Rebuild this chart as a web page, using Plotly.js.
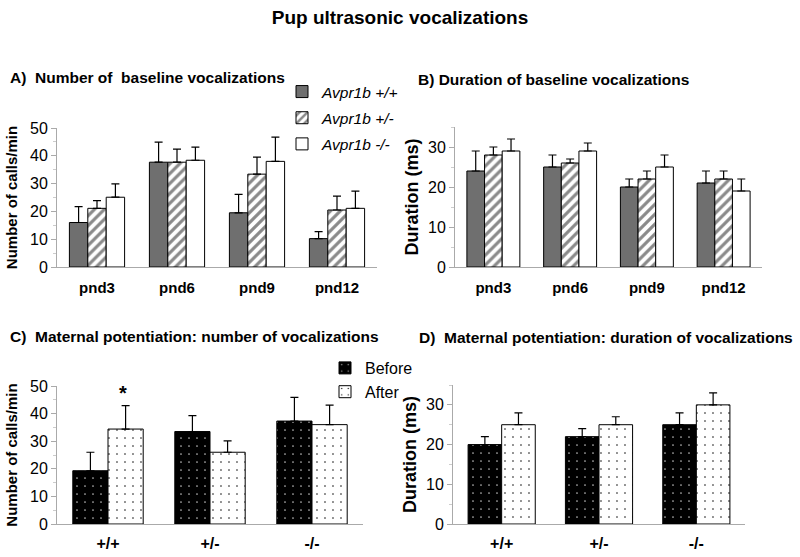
<!DOCTYPE html>
<html>
<head>
<meta charset="utf-8">
<script src="https://cdn.plot.ly/plotly-3.0.1.min.js"></script>
<style>html,body{margin:0;padding:0;background:#fff;}#chart{width:800px;height:557px;}</style>
</head>
<body>
<div id="chart"></div>
<script>
// ---- Data ----
const pndDays = ["pnd3", "pnd6", "pnd9", "pnd12"];
const genotypeNames = ["Avpr1b +/+", "Avpr1b +/-", "Avpr1b -/-"];

// A) Number of baseline vocalizations (calls/min) and SEM
const callsWT  = [16.0, 37.7, 19.5, 10.2];
const callsHet = [21.1, 37.7, 33.4, 20.5];
const callsKO  = [25.1, 38.4, 38.0, 21.1];
const callsWTErr  = [5.7, 7.2, 6.6, 2.5];
const callsHetErr = [2.8, 4.7, 6.1, 5.0];
const callsKOErr  = [4.8, 4.7, 8.7, 6.2];

// B) Duration of baseline vocalizations (ms) and SEM
const durWT  = [24, 25, 20, 21];
const durHet = [28, 26, 22, 22];
const durKO  = [29, 29, 25, 19];
const durWTErr  = [5, 3, 2, 3];
const durHetErr = [2, 1, 2, 2];
const durKOErr  = [3, 2, 3, 3];

// C/D) Maternal potentiation
const genotypes = ["+/+", "+/-", "-/-"];
const potCallsBefore = [19.3, 33.5, 37.3];
const potCallsAfter  = [34.4, 26.0, 36.0];
const potCallsBeforeErr = [6.7, 5.8, 8.6];
const potCallsAfterErr  = [8.5, 4.1, 7.1];
const potDurBefore = [20, 22, 25];
const potDurAfter  = [25, 25, 30];
const potDurBeforeErr = [2, 2, 3];
const potDurAfterErr  = [3, 2, 3];

// ---- Styles ----
const FONT = "Liberation Sans, Arial, sans-serif";
const line = {color: "#000", width: 1};
const styleWT  = {color: "#6f6f6f", line: line};
const styleHet = {color: "#fff", line: line, pattern: {shape: "/", fgcolor: "#8a8a8a", bgcolor: "#fff", size: 7, solidity: 0.45}};
const styleKO  = {color: "#fff", line: line};
const styleBefore = {color: "#000", line: line, pattern: {shape: ".", fgcolor: "#bbb", bgcolor: "#000", size: 8, solidity: 0.035}};
const styleAfter  = {color: "#fff", line: line, pattern: {shape: ".", fgcolor: "#000", bgcolor: "#fff", size: 8, solidity: 0.03}};

function errUp(arr) {
  return {type: "data", symmetric: false, array: arr, arrayminus: arr.map(() => 0),
          color: "#000", thickness: 1.2, width: 4};
}
function bar(x, y, err, marker, xa, ya, name, legend, show, group) {
  return {type: "bar", x: x, y: y, error_y: errUp(err), marker: marker,
          xaxis: xa, yaxis: ya, name: name, legend: legend, showlegend: show,
          legendgroup: group};
}

const traces = [
  bar(pndDays, callsWT,  callsWTErr,  styleWT,  "x",  "y",  genotypeNames[0], "legend", true, "g1"),
  bar(pndDays, callsHet, callsHetErr, styleHet, "x",  "y",  genotypeNames[1], "legend", true, "g2"),
  bar(pndDays, callsKO,  callsKOErr,  styleKO,  "x",  "y",  genotypeNames[2], "legend", true, "g3"),
  bar(pndDays, durWT,  durWTErr,  styleWT,  "x2", "y2", genotypeNames[0], "legend", false, "g1"),
  bar(pndDays, durHet, durHetErr, styleHet, "x2", "y2", genotypeNames[1], "legend", false, "g2"),
  bar(pndDays, durKO,  durKOErr,  styleKO,  "x2", "y2", genotypeNames[2], "legend", false, "g3"),
  bar(genotypes, potCallsBefore, potCallsBeforeErr, styleBefore, "x3", "y3", "Before", "legend2", true, "b1"),
  bar(genotypes, potCallsAfter,  potCallsAfterErr,  styleAfter,  "x3", "y3", "After",  "legend2", true, "b2"),
  bar(genotypes, potDurBefore, potDurBeforeErr, styleBefore, "x4", "y4", "Before", "legend2", false, "b1"),
  bar(genotypes, potDurAfter,  potDurAfterErr,  styleAfter,  "x4", "y4", "After",  "legend2", false, "b2")
];

const W = 800, H = 557;
function px(a, b) { return [a / W, b / W]; }
function py(top, bottom) { return [1 - bottom / H, 1 - top / H]; }

function xAxis(domain, anchor, fs, standoff) {
  return {domain: domain, anchor: anchor, showline: true, linecolor: "#aaa", linewidth: 1,
          ticks: "", showgrid: false, zeroline: false, fixedrange: true, ticklabelstandoff: standoff,
          tickfont: {family: FONT, size: fs, color: "#000", weight: "bold"}};
}
function yAxis(domain, anchor, range, title, fs, standoff) {
  return {domain: domain, anchor: anchor, range: range, showline: true, linecolor: "#aaa", linewidth: 1,
          ticks: "outside", ticklen: 5, tickcolor: "#aaa", dtick: 10, showgrid: false, zeroline: false,
          minor: {dtick: 5, ticks: "outside", ticklen: 3, tickcolor: "#ccc"},
          tickfont: {family: FONT, size: 16, color: "#000"},
          title: {text: title, font: {family: FONT, size: fs, color: "#000", weight: "bold"}, standoff: standoff}};
}

const tfont = {family: FONT, size: 15.5, color: "#000", weight: "bold"};
const layout = {
  width: W, height: H,
  margin: {l: 0, r: 0, t: 0, b: 0},
  paper_bgcolor: "#fff", plot_bgcolor: "#fff",
  barmode: "group",
  bargap: 0.31,
  title: {text: "Pup ultrasonic vocalizations", font: {family: FONT, size: 19, color: "#000", weight: "bold"},
          x: 0.5, xanchor: "center", y: 1 - 17 / H, yanchor: "middle"},
  xaxis:  xAxis(px(57, 377), "y", 15, 7),
  yaxis:  yAxis(py(128, 267), "x", [0, 50], "Number of calls/min", 15, 8),
  xaxis2: xAxis(px(455, 762), "y2", 15, 7),
  yaxis2: yAxis(py(127, 267), "x2", [0, 35], "Duration (ms)", 18, 4),
  xaxis3: xAxis(px(57, 363), "y3", 16, 5),
  yaxis3: yAxis(py(386, 524), "x3", [0, 50], "Number of calls/min", 15, 8),
  xaxis4: xAxis(px(453, 745), "y4", 16, 5),
  yaxis4: yAxis(py(385, 524), "x4", [0, 35], "Duration (ms)", 18, 4),
  legend: {x: 282 / W, y: 1 - 75 / H, xanchor: "left", yanchor: "top", bgcolor: "rgba(0,0,0,0)",
           font: {family: FONT, size: 15.5, color: "#000", style: "italic"}, tracegroupgap: 3,
           itemwidth: 30},
  legend2: {x: 325 / W, y: 1 - 351 / H, xanchor: "left", yanchor: "top", bgcolor: "rgba(0,0,0,0)",
            font: {family: FONT, size: 16, color: "#000"}, tracegroupgap: 0, itemwidth: 30},
  annotations: [
    {text: "A)  Number of  baseline vocalizations", xref: "paper", yref: "paper", x: 8 / W, y: 1 - 77 / H,
     xanchor: "left", yanchor: "middle", showarrow: false, font: tfont},
    {text: "B) Duration of baseline vocalizations", xref: "paper", yref: "paper", x: 416 / W, y: 1 - 80 / H,
     xanchor: "left", yanchor: "middle", showarrow: false, font: tfont},
    {text: "C)  Maternal potentiation: number of vocalizations", xref: "paper", yref: "paper", x: 8 / W, y: 1 - 336 / H,
     xanchor: "left", yanchor: "middle", showarrow: false, font: tfont},
    {text: "D)  Maternal potentiation: duration of vocalizations", xref: "paper", yref: "paper", x: 417 / W, y: 1 - 337 / H,
     xanchor: "left", yanchor: "middle", showarrow: false, font: tfont},
    {text: "*", xref: "x3", yref: "y3", x: genotypes[0], xshift: 15, y: potCallsAfter[0] + potCallsAfterErr[0],
     yanchor: "bottom", yshift: 0, showarrow: false, font: {family: FONT, size: 20, color: "#000", weight: "bold"}}
  ]
};

Plotly.newPlot("chart", traces, layout, {displayModeBar: false, staticPlot: true});
</script>
</body>
</html>
